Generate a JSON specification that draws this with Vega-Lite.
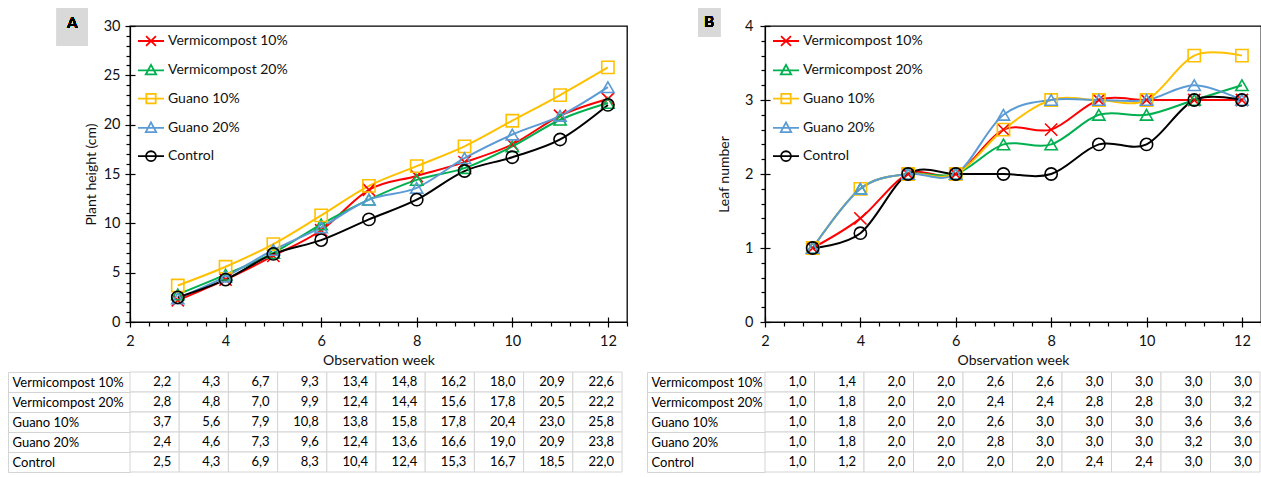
{
  "$schema": "https://vega.github.io/schema/vega-lite/v6.json",
  "padding": {"left": 7, "top": 7, "right": 2, "bottom": 2},
  "datasets": {
    "height": [
      {"t": "Vermicompost 10%", "w": 3, "v": 2.2}, {"t": "Vermicompost 10%", "w": 4, "v": 4.3}, {"t": "Vermicompost 10%", "w": 5, "v": 6.7}, {"t": "Vermicompost 10%", "w": 6, "v": 9.3}, {"t": "Vermicompost 10%", "w": 7, "v": 13.4}, {"t": "Vermicompost 10%", "w": 8, "v": 14.8}, {"t": "Vermicompost 10%", "w": 9, "v": 16.2}, {"t": "Vermicompost 10%", "w": 10, "v": 18.0}, {"t": "Vermicompost 10%", "w": 11, "v": 20.9}, {"t": "Vermicompost 10%", "w": 12, "v": 22.6},
      {"t": "Vermicompost 20%", "w": 3, "v": 2.8}, {"t": "Vermicompost 20%", "w": 4, "v": 4.8}, {"t": "Vermicompost 20%", "w": 5, "v": 7.0}, {"t": "Vermicompost 20%", "w": 6, "v": 9.9}, {"t": "Vermicompost 20%", "w": 7, "v": 12.4}, {"t": "Vermicompost 20%", "w": 8, "v": 14.4}, {"t": "Vermicompost 20%", "w": 9, "v": 15.6}, {"t": "Vermicompost 20%", "w": 10, "v": 17.8}, {"t": "Vermicompost 20%", "w": 11, "v": 20.5}, {"t": "Vermicompost 20%", "w": 12, "v": 22.2},
      {"t": "Guano 10%", "w": 3, "v": 3.7}, {"t": "Guano 10%", "w": 4, "v": 5.6}, {"t": "Guano 10%", "w": 5, "v": 7.9}, {"t": "Guano 10%", "w": 6, "v": 10.8}, {"t": "Guano 10%", "w": 7, "v": 13.8}, {"t": "Guano 10%", "w": 8, "v": 15.8}, {"t": "Guano 10%", "w": 9, "v": 17.8}, {"t": "Guano 10%", "w": 10, "v": 20.4}, {"t": "Guano 10%", "w": 11, "v": 23.0}, {"t": "Guano 10%", "w": 12, "v": 25.8},
      {"t": "Guano 20%", "w": 3, "v": 2.4}, {"t": "Guano 20%", "w": 4, "v": 4.6}, {"t": "Guano 20%", "w": 5, "v": 7.3}, {"t": "Guano 20%", "w": 6, "v": 9.6}, {"t": "Guano 20%", "w": 7, "v": 12.4}, {"t": "Guano 20%", "w": 8, "v": 13.6}, {"t": "Guano 20%", "w": 9, "v": 16.6}, {"t": "Guano 20%", "w": 10, "v": 19.0}, {"t": "Guano 20%", "w": 11, "v": 20.9}, {"t": "Guano 20%", "w": 12, "v": 23.8},
      {"t": "Control", "w": 3, "v": 2.5}, {"t": "Control", "w": 4, "v": 4.3}, {"t": "Control", "w": 5, "v": 6.9}, {"t": "Control", "w": 6, "v": 8.3}, {"t": "Control", "w": 7, "v": 10.4}, {"t": "Control", "w": 8, "v": 12.4}, {"t": "Control", "w": 9, "v": 15.3}, {"t": "Control", "w": 10, "v": 16.7}, {"t": "Control", "w": 11, "v": 18.5}, {"t": "Control", "w": 12, "v": 22.0}
    ],
    "leaf": [
      {"t": "Vermicompost 10%", "w": 3, "v": 1.0}, {"t": "Vermicompost 10%", "w": 4, "v": 1.4}, {"t": "Vermicompost 10%", "w": 5, "v": 2.0}, {"t": "Vermicompost 10%", "w": 6, "v": 2.0}, {"t": "Vermicompost 10%", "w": 7, "v": 2.6}, {"t": "Vermicompost 10%", "w": 8, "v": 2.6}, {"t": "Vermicompost 10%", "w": 9, "v": 3.0}, {"t": "Vermicompost 10%", "w": 10, "v": 3.0}, {"t": "Vermicompost 10%", "w": 11, "v": 3.0}, {"t": "Vermicompost 10%", "w": 12, "v": 3.0},
      {"t": "Vermicompost 20%", "w": 3, "v": 1.0}, {"t": "Vermicompost 20%", "w": 4, "v": 1.8}, {"t": "Vermicompost 20%", "w": 5, "v": 2.0}, {"t": "Vermicompost 20%", "w": 6, "v": 2.0}, {"t": "Vermicompost 20%", "w": 7, "v": 2.4}, {"t": "Vermicompost 20%", "w": 8, "v": 2.4}, {"t": "Vermicompost 20%", "w": 9, "v": 2.8}, {"t": "Vermicompost 20%", "w": 10, "v": 2.8}, {"t": "Vermicompost 20%", "w": 11, "v": 3.0}, {"t": "Vermicompost 20%", "w": 12, "v": 3.2},
      {"t": "Guano 10%", "w": 3, "v": 1.0}, {"t": "Guano 10%", "w": 4, "v": 1.8}, {"t": "Guano 10%", "w": 5, "v": 2.0}, {"t": "Guano 10%", "w": 6, "v": 2.0}, {"t": "Guano 10%", "w": 7, "v": 2.6}, {"t": "Guano 10%", "w": 8, "v": 3.0}, {"t": "Guano 10%", "w": 9, "v": 3.0}, {"t": "Guano 10%", "w": 10, "v": 3.0}, {"t": "Guano 10%", "w": 11, "v": 3.6}, {"t": "Guano 10%", "w": 12, "v": 3.6},
      {"t": "Guano 20%", "w": 3, "v": 1.0}, {"t": "Guano 20%", "w": 4, "v": 1.8}, {"t": "Guano 20%", "w": 5, "v": 2.0}, {"t": "Guano 20%", "w": 6, "v": 2.0}, {"t": "Guano 20%", "w": 7, "v": 2.8}, {"t": "Guano 20%", "w": 8, "v": 3.0}, {"t": "Guano 20%", "w": 9, "v": 3.0}, {"t": "Guano 20%", "w": 10, "v": 3.0}, {"t": "Guano 20%", "w": 11, "v": 3.2}, {"t": "Guano 20%", "w": 12, "v": 3.0},
      {"t": "Control", "w": 3, "v": 1.0}, {"t": "Control", "w": 4, "v": 1.2}, {"t": "Control", "w": 5, "v": 2.0}, {"t": "Control", "w": 6, "v": 2.0}, {"t": "Control", "w": 7, "v": 2.0}, {"t": "Control", "w": 8, "v": 2.0}, {"t": "Control", "w": 9, "v": 2.4}, {"t": "Control", "w": 10, "v": 2.4}, {"t": "Control", "w": 11, "v": 3.0}, {"t": "Control", "w": 12, "v": 3.0}
    ]
  },
  "hconcat": [
    {
      "spacing": -3,
      "vconcat": [
        {
          "width": 497,
          "height": 296,
          "view": {"stroke": "#000", "strokeWidth": 1.3},
          "data": {"name": "height"},
          "layer": [
            {
              "mark": {"type": "rect", "fill": "#d9d9d9"},
              "encoding": {
                "x": {"datum": 0.47, "type": "quantitative", "scale": {"domain": [2, 12.4], "nice": false, "zero": false},
                  "axis": {"orient": "bottom", "values": [2,4,6,8,10,12], "labels": false, "domain": false, "title": null, "tickSize": -5}},
                "x2": {"datum": 1.12},
                "y": {"datum": 31.82, "type": "quantitative", "scale": {"domain": [0, 30], "nice": false},
                  "axis": {"orient": "left", "values": [0,5,10,15,20,25,30], "labels": false, "domain": false, "title": null, "tickSize": -5}},
                "y2": {"datum": 27.97}
              }
            },
            {
              "mark": {"type": "text", "fontSize": 15, "fontWeight": 400, "color": "#000"},
              "encoding": {
                "x": {"datum": 0.795, "type": "quantitative", "axis": null},
                "y": {"datum": 30.3, "type": "quantitative", "axis": null},
                "text": {"value": "A"}
              }
            },
            {
              "mark": {"type": "line", "interpolate": "cardinal", "tension": 0, "strokeWidth": 2},
              "encoding": {
                "x": {"field": "w", "type": "quantitative",
                  "axis": {"orient": "bottom", "title": "Observation week", "values": [2,4,6,8,10,12], "format": "d", "tickSize": 5, "labelPadding": 7, "titlePadding": 6, "labelFlush": false}},
                "y": {"field": "v", "type": "quantitative",
                  "axis": {"orient": "left", "title": "Plant height (cm)", "values": [0,5,10,15,20,25,30], "format": "d", "tickSize": 5, "labelPadding": 5, "titlePadding": 5}},
                "color": {"field": "t", "type": "nominal", "legend": null,
                  "scale": {"domain": ["Vermicompost 10%", "Vermicompost 20%", "Guano 10%", "Guano 20%", "Control"], "range": ["#ff0000", "#00b050", "#ffc000", "#5b9bd5", "#000000"]}}
              }
            },
            {
              "mark": {"type": "point", "filled": false, "size": 150, "strokeWidth": 1.6, "opacity": 1},
              "encoding": {
                "x": {"field": "w", "type": "quantitative",
                  "axis": {"orient": "bottom", "values": [2.4,2.8,3.2,3.6,4.4,4.8,5.2,5.6,6.4,6.8,7.2,7.6,8.4,8.8,9.2,9.6,10.4,10.8,11.2,11.6,12.4], "labels": false, "domain": false, "title": null, "tickSize": 4}},
                "y": {"field": "v", "type": "quantitative",
                  "axis": {"orient": "left", "values": [1,2,3,4,6,7,8,9,11,12,13,14,16,17,18,19,21,22,23,24,26,27,28,29], "labels": false, "domain": false, "title": null, "tickSize": 4}},
                "color": {"field": "t", "type": "nominal", "legend": null,
                  "scale": {"domain": ["Vermicompost 10%", "Vermicompost 20%", "Guano 10%", "Guano 20%", "Control"], "range": ["#ff0000", "#00b050", "#ffc000", "#5b9bd5", "#000000"]}},
                "shape": {"field": "t", "type": "nominal", "legend": null,
                  "scale": {"domain": ["Vermicompost 10%", "Vermicompost 20%", "Guano 10%", "Guano 20%", "Control"], "range": ["M-1,-1L1,1M-1,1L1,-1", "triangle-up", "square", "triangle-up", "circle"]}}
              }
            },
            {
              "transform": [{"filter": "false"}],
              "mark": {"type": "point", "filled": false},
              "encoding": {
                "color": {"field": "t", "type": "nominal",
                  "scale": {"domain": ["Vermicompost 10%", "Vermicompost 20%", "Guano 10%", "Guano 20%", "Control"], "range": ["#ff0000", "#00b050", "#ffc000", "#5b9bd5", "#000000"]},
                  "legend": {"title": null, "orient": "none", "legendX": 7, "legendY": 1, "symbolSize": 676, "symbolStrokeWidth": 1.8, "symbolOpacity": 1, "labelFontSize": 14, "labelColor": "#111", "labelOffset": 3, "rowPadding": 6.3, "padding": 0}},
                "shape": {"field": "t", "type": "nominal",
                  "scale": {"domain": ["Vermicompost 10%", "Vermicompost 20%", "Guano 10%", "Guano 20%", "Control"], "range": [
                    "M-1,0L1,0M-0.38,-0.38L0.38,0.38M-0.38,0.38L0.38,-0.38",
                    "M-1,0L1,0M0,-0.42L0.4,0.32L-0.4,0.32Z",
                    "M-1,0L1,0M-0.36,-0.36L0.36,-0.36L0.36,0.36L-0.36,0.36Z",
                    "M-1,0L1,0M0,-0.42L0.4,0.32L-0.4,0.32Z",
                    "M-1,0L1,0M0.38,0A0.38,0.38,0,1,1,-0.38,0A0.38,0.38,0,1,1,0.38,0"]},
                  "legend": {"title": null, "orient": "none", "legendX": 7, "legendY": 1, "symbolSize": 676, "symbolStrokeWidth": 1.8, "symbolOpacity": 1, "labelFontSize": 14, "labelColor": "#111", "labelOffset": 3, "rowPadding": 6.3, "padding": 0}}
              }
            }
          ],
          "resolve": {"scale": {"color": "independent", "shape": "independent"}, "axis": {"x": "independent", "y": "independent"}}
        },
        {
          "width": 492,
          "height": 100,
          "data": {"name": "height"},
          "layer": [
            {
              "mark": {"type": "rect", "fill": "#ffffff", "stroke": "#d4d4d4", "strokeWidth": 1},
              "encoding": {
                "x": {"field": "w", "type": "ordinal", "scale": {"paddingInner": 0, "paddingOuter": 0}, "axis": null},
                "y": {"field": "t", "type": "nominal", "sort": ["Vermicompost 10%", "Vermicompost 20%", "Guano 10%", "Guano 20%", "Control"],
                  "scale": {"paddingInner": 0, "paddingOuter": 0},
                  "axis": {"title": null, "orient": "left", "offset": 122, "domainColor": "#d4d4d4", "domainWidth": 1, "tickColor": "#d4d4d4", "tickWidth": 1, "tickBand": "extent", "tickSize": -122, "labelAlign": "left", "labelBaseline": "middle", "labelPadding": 118, "labelFontSize": 13, "labelColor": "#000"}}
              }
            },
            {
              "mark": {"type": "text", "align": "right", "baseline": "middle", "dx": -8, "fontSize": 13, "color": "#000"},
              "encoding": {
                "x": {"field": "w", "type": "ordinal", "bandPosition": 1},
                "y": {"field": "t", "type": "nominal", "sort": ["Vermicompost 10%", "Vermicompost 20%", "Guano 10%", "Guano 20%", "Control"]},
                "text": {"field": "v", "type": "quantitative", "format": ".1f"}
              }
            }
          ]
        }
      ]
    },
    {
      "spacing": -3,
      "vconcat": [
        {
          "width": 496,
          "height": 296,
          "view": {"stroke": "#000", "strokeWidth": 1.3},
          "data": {"name": "leaf"},
          "layer": [
            {
              "mark": {"type": "rect", "fill": "#d9d9d9"},
              "encoding": {
                "x": {"datum": 0.6, "type": "quantitative", "scale": {"domain": [2, 12.4], "nice": false, "zero": false},
                  "axis": {"orient": "bottom", "values": [2,4,6,8,10,12], "labels": false, "domain": false, "title": null, "tickSize": -5}},
                "x2": {"datum": 1.06},
                "y": {"datum": 4.243, "type": "quantitative", "scale": {"domain": [0, 4], "nice": false},
                  "axis": {"orient": "left", "values": [0,1,2,3,4], "labels": false, "domain": false, "title": null, "tickSize": -5}},
                "y2": {"datum": 3.851}
              }
            },
            {
              "mark": {"type": "text", "fontSize": 15, "fontWeight": 400, "color": "#000"},
              "encoding": {
                "x": {"datum": 0.83, "type": "quantitative", "axis": null},
                "y": {"datum": 4.054, "type": "quantitative", "axis": null},
                "text": {"value": "B"}
              }
            },
            {
              "mark": {"type": "line", "interpolate": "cardinal", "tension": 0, "strokeWidth": 2},
              "encoding": {
                "x": {"field": "w", "type": "quantitative",
                  "axis": {"orient": "bottom", "title": "Observation week", "values": [2,4,6,8,10,12], "format": "d", "tickSize": 5, "labelPadding": 7, "titlePadding": 6, "labelFlush": false}},
                "y": {"field": "v", "type": "quantitative",
                  "axis": {"orient": "left", "title": "Leaf number", "values": [0,1,2,3,4], "format": "d", "tickSize": 5, "labelPadding": 7, "titlePadding": 13}},
                "color": {"field": "t", "type": "nominal", "legend": null,
                  "scale": {"domain": ["Vermicompost 10%", "Vermicompost 20%", "Guano 10%", "Guano 20%", "Control"], "range": ["#ff0000", "#00b050", "#ffc000", "#5b9bd5", "#000000"]}}
              }
            },
            {
              "mark": {"type": "point", "filled": false, "size": 150, "strokeWidth": 1.6, "opacity": 1},
              "encoding": {
                "x": {"field": "w", "type": "quantitative",
                  "axis": {"orient": "bottom", "values": [2.4,2.8,3.2,3.6,4.4,4.8,5.2,5.6,6.4,6.8,7.2,7.6,8.4,8.8,9.2,9.6,10.4,10.8,11.2,11.6,12.4], "labels": false, "domain": false, "title": null, "tickSize": 4}},
                "y": {"field": "v", "type": "quantitative",
                  "axis": {"orient": "left", "values": [0.2,0.4,0.6,0.8,1.2,1.4,1.6,1.8,2.2,2.4,2.6,2.8,3.2,3.4,3.6,3.8], "labels": false, "domain": false, "title": null, "tickSize": 4}},
                "color": {"field": "t", "type": "nominal", "legend": null,
                  "scale": {"domain": ["Vermicompost 10%", "Vermicompost 20%", "Guano 10%", "Guano 20%", "Control"], "range": ["#ff0000", "#00b050", "#ffc000", "#5b9bd5", "#000000"]}},
                "shape": {"field": "t", "type": "nominal", "legend": null,
                  "scale": {"domain": ["Vermicompost 10%", "Vermicompost 20%", "Guano 10%", "Guano 20%", "Control"], "range": ["M-1,-1L1,1M-1,1L1,-1", "triangle-up", "square", "triangle-up", "circle"]}}
              }
            },
            {
              "transform": [{"filter": "false"}],
              "mark": {"type": "point", "filled": false},
              "encoding": {
                "color": {"field": "t", "type": "nominal",
                  "scale": {"domain": ["Vermicompost 10%", "Vermicompost 20%", "Guano 10%", "Guano 20%", "Control"], "range": ["#ff0000", "#00b050", "#ffc000", "#5b9bd5", "#000000"]},
                  "legend": {"title": null, "orient": "none", "legendX": 7, "legendY": 1, "symbolSize": 676, "symbolStrokeWidth": 1.8, "symbolOpacity": 1, "labelFontSize": 14, "labelColor": "#111", "labelOffset": 3, "rowPadding": 6.3, "padding": 0}},
                "shape": {"field": "t", "type": "nominal",
                  "scale": {"domain": ["Vermicompost 10%", "Vermicompost 20%", "Guano 10%", "Guano 20%", "Control"], "range": [
                    "M-1,0L1,0M-0.38,-0.38L0.38,0.38M-0.38,0.38L0.38,-0.38",
                    "M-1,0L1,0M0,-0.42L0.4,0.32L-0.4,0.32Z",
                    "M-1,0L1,0M-0.36,-0.36L0.36,-0.36L0.36,0.36L-0.36,0.36Z",
                    "M-1,0L1,0M0,-0.42L0.4,0.32L-0.4,0.32Z",
                    "M-1,0L1,0M0.38,0A0.38,0.38,0,1,1,-0.38,0A0.38,0.38,0,1,1,0.38,0"]},
                  "legend": {"title": null, "orient": "none", "legendX": 7, "legendY": 1, "symbolSize": 676, "symbolStrokeWidth": 1.8, "symbolOpacity": 1, "labelFontSize": 14, "labelColor": "#111", "labelOffset": 3, "rowPadding": 6.3, "padding": 0}}
              }
            }
          ],
          "resolve": {"scale": {"color": "independent", "shape": "independent"}, "axis": {"x": "independent", "y": "independent"}}
        },
        {
          "width": 495,
          "height": 100,
          "data": {"name": "leaf"},
          "layer": [
            {
              "mark": {"type": "rect", "fill": "#ffffff", "stroke": "#d4d4d4", "strokeWidth": 1},
              "encoding": {
                "x": {"field": "w", "type": "ordinal", "scale": {"paddingInner": 0, "paddingOuter": 0}, "axis": null},
                "y": {"field": "t", "type": "nominal", "sort": ["Vermicompost 10%", "Vermicompost 20%", "Guano 10%", "Guano 20%", "Control"],
                  "scale": {"paddingInner": 0, "paddingOuter": 0},
                  "axis": {"title": null, "orient": "left", "offset": 118, "domainColor": "#d4d4d4", "domainWidth": 1, "tickColor": "#d4d4d4", "tickWidth": 1, "tickBand": "extent", "tickSize": -118, "labelAlign": "left", "labelBaseline": "middle", "labelPadding": 114, "labelFontSize": 13, "labelColor": "#000"}}
              }
            },
            {
              "mark": {"type": "text", "align": "right", "baseline": "middle", "dx": -8, "fontSize": 13, "color": "#000"},
              "encoding": {
                "x": {"field": "w", "type": "ordinal", "bandPosition": 1},
                "y": {"field": "t", "type": "nominal", "sort": ["Vermicompost 10%", "Vermicompost 20%", "Guano 10%", "Guano 20%", "Control"]},
                "text": {"field": "v", "type": "quantitative", "format": ".1f"}
              }
            }
          ]
        }
      ]
    }
  ],
  "spacing": 17,
  "config": {
    "font": "Lato",
    "view": {"stroke": null},
    "locale": {"number": {"decimal": ",", "thousands": ".", "grouping": [3], "currency": ["", " €"]}},
    "axis": {"grid": false, "labelOverlap": false, "domainColor": "#000", "domainWidth": 1.2, "tickColor": "#000", "tickWidth": 1.2, "labelColor": "#111", "labelFontSize": 14.5, "labelFont": "Lato", "titleFont": "Lato", "titleFontSize": 14, "titleFontWeight": "normal", "titleColor": "#111"},
    "legend": {"labelFont": "Lato"},
    "text": {"font": "Lato"}
  }
}
